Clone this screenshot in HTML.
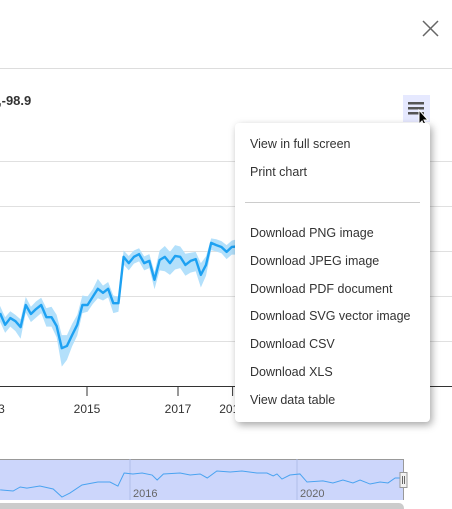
<!DOCTYPE html>
<html><head><meta charset="utf-8"><style>
html,body{margin:0;padding:0;width:452px;height:509px;overflow:hidden;background:#fff;font-family:"Liberation Sans",sans-serif;}
#menu{position:absolute;left:235px;top:123px;width:195px;height:299px;background:#fff;border-radius:4px;box-shadow:2px 3px 8px rgba(0,0,0,0.35);}
.item{position:absolute;left:15px;font-size:12.5px;color:#333;white-space:nowrap;}
</style></head><body>
<svg width="452" height="509" style="position:absolute;left:0;top:0" id="chart">
<line x1="0" y1="68.5" x2="452" y2="68.5" stroke="#ddd"/>
<g stroke="#666" stroke-width="1.5"><line x1="423" y1="21" x2="438" y2="36"/><line x1="438" y1="21" x2="423" y2="36"/></g>
<text x="-2" y="105" font-size="13" font-weight="bold" fill="#333">,-98.9</text>
<g id="grid"></g>
<g id="xaxis"></g>
<g id="series"></g>
<rect x="403" y="95" width="27" height="27" fill="#e6e9ff"/>
<g fill="#555"><rect x="408" y="102" width="16" height="2.5"/><rect x="408" y="107" width="16" height="2.5"/><rect x="408" y="112" width="16" height="2.5"/></g>
<path d="M419 110 L419 124 L422 121 L425 127 L427 126 L424 120 L428 120 Z" fill="#000" stroke="#fff" stroke-width="1"/>
<g id="nav"></g>
</svg>
<div id="menu">
<div class="item" style="top:14px">View in full screen</div>
<div class="item" style="top:42px">Print chart</div>
<div style="position:absolute;left:10px;right:10px;top:79px;border-top:1px solid #ccc"></div>
<div class="item" style="top:103px">Download PNG image</div>
<div class="item" style="top:131px">Download JPEG image</div>
<div class="item" style="top:159px">Download PDF document</div>
<div class="item" style="top:186px">Download SVG vector image</div>
<div class="item" style="top:214px">Download CSV</div>
<div class="item" style="top:242px">Download XLS</div>
<div class="item" style="top:270px">View data table</div>
</div>
<script>
const yTicks=[10,20,30,40,50];
const xTickYears=[2012.9,2015,2017,2018.2];
const xTickLabels=["2013","2015","2017","2019"];
const mainValues=[16.2,13.6,15.1,14.4,13.1,18,16,17.1,18,15.3,15.3,13.3,8.4,8.9,11.3,13.6,18,18,19.8,21.6,20.7,21.6,18.4,18.4,28.7,27.3,28.7,29.3,27.3,27.8,23.6,28,28.7,27.3,28.9,28.7,26.9,27.8,28.2,24.7,26.9,31.8,31.3,30.9,29.8,30.9,31,30.5];
const bandLow=[14.3,11.8,13.2,12.2,10.5,16.3,14.2,15.2,16.2,13.2,13.2,10.8,4.3,5.8,8.8,11.2,16.2,16.5,18.2,19.5,19,19.7,16.2,16.5,27,25.7,27.2,27.7,25.7,26.2,21.5,25.7,25.5,24.7,25.9,26.2,24.5,25.2,25.5,21.9,24.5,30.2,29.9,29.5,28.2,29.2,29.2,28.7];
const bandHigh=[17.8,15.3,16.6,15.8,14.8,19.8,17.6,18.8,19.6,17.3,17.6,15.8,11.3,11.3,13.8,15.8,20.1,19.9,21.5,23.8,22.3,23.1,20.1,19.8,30.1,28.9,30.1,30.6,28.8,29.3,25.3,30.1,31.1,29.8,31.3,31,29.4,29.6,29.8,27.3,28.8,32.8,32.6,32.2,31.3,32.3,32.6,32.1];
const navYears=[2012.89,2013.2,2013.37,2013.53,2013.84,2014.16,2014.37,2014.56,2014.85,2015.23,2015.52,2015.71,2015.86,2016.07,2016.29,2016.53,2016.65,2016.8,2017.2,2017.44,2017.68,2017.85,2018.08,2018.4,2018.68,2019.04,2019.28,2019.43,2019.52,2019.64,2019.83,2020.07,2020.24,2020.62,2020.86,2021.1,2021.34,2021.51,2021.75,2021.99,2022.18,2022.35,2022.47];
const navValues=[6.5,5.8,8.4,7.7,9,7.1,1.9,4.5,9.7,11.6,11.6,9,17.4,16.8,17.4,16.1,12.9,16.8,17.4,16.1,16.8,14.2,18.7,18.1,18.7,17.4,17.4,15.5,16.8,13.5,16.1,16.8,11.6,12.3,11,12.9,11,12.9,10.3,11.6,11,14.2,14.2];
const NS="http://www.w3.org/2000/svg";
function el(t,a,p){const e=document.createElementNS(NS,t);for(const k in a)e.setAttribute(k,a[k]);document.getElementById(p).appendChild(e);return e;}
const yMain=v=>386-v*4.5;
const xIdx=i=>i*5.15;
const xYear=y=>87+(y-2015)*45.5;
const xNav=y=>130+(y-2016)*41.75;
const yNav=v=>500-v*1.55;
yTicks.forEach((t,i)=>{const g=el('line',{x1:0,x2:452,y1:yMain(t)+0.5,y2:yMain(t)+0.5,stroke:'#e0e0e0'},'grid');

});
const ax=el('line',{x1:0,x2:452,y1:386.5,y2:386.5,stroke:'#333'},'xaxis');


xTickYears.forEach((y,i)=>{const x=xYear(y);
const tk=el('line',{x1:x,x2:x,y1:386,y2:396,stroke:'#333'},'xaxis');


const tl=el('text',{x:x,y:413,'font-size':12,'text-anchor':'middle',fill:'#333'},'xaxis');tl.textContent=xTickLabels[i];

});
let band='';mainValues.forEach((v,i)=>band+=(i?'L':'M')+xIdx(i)+' '+yMain(bandHigh[i]));
for(let i=mainValues.length-1;i>=0;i--)band+='L'+xIdx(i)+' '+yMain(bandLow[i]);
const b=el('path',{d:band+'Z',fill:'#b3e0fb'},'series');


const ln=el('path',{d:mainValues.map((v,i)=>(i?'L':'M')+xIdx(i)+' '+yMain(v)).join(''),fill:'none',stroke:'#1da1f2','stroke-width':2.4,'stroke-linejoin':'round'},'series');


const nb=el('rect',{x:0,y:459,width:403,height:41,fill:'#ccd6fb'},'nav');


el('line',{x1:0,x2:403,y1:459.5,y2:459.5,stroke:'#999'},'nav');
el('line',{x1:403.5,x2:403.5,y1:459,y2:500,stroke:'#999'},'nav');
[[2016,"2016"],[2020,"2020"]].forEach(([y,l])=>{const x=xNav(y);el('line',{x1:x,x2:x,y1:459,y2:500,stroke:'#b0bde8'},'nav');
const t=el('text',{x:x+3,y:497,'font-size':11,fill:'#666'},'nav');t.textContent=l;

});
const nl=el('path',{d:navYears.map((y,i)=>(i?'L':'M')+xNav(y)+' '+yNav(navValues[i])).join(''),fill:'none',stroke:'#4aa3f0','stroke-width':1},'nav');


const h=el('rect',{x:400,y:472.5,width:7,height:15,fill:'#f2f2f2',stroke:'#999'},'nav');


el('line',{x1:402.5,x2:402.5,y1:476,y2:484,stroke:'#666'},'nav');
el('line',{x1:404.5,x2:404.5,y1:476,y2:484,stroke:'#666'},'nav');
const sb=el('rect',{x:-5,y:503,width:409,height:12,rx:5,fill:'#cccccc'},'nav');


</script>
</body></html>
